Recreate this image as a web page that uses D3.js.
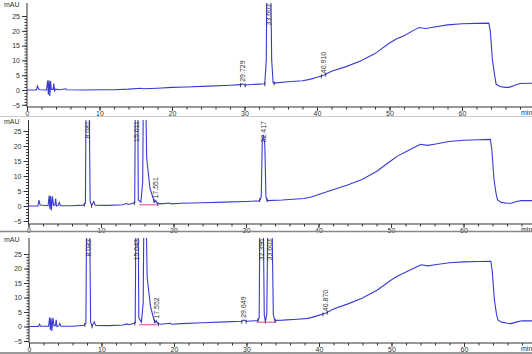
<!DOCTYPE html>
<html lang="en">
<head>
<meta charset="UTF-8">
<title>Chromatograms</title>
<style>
  body { margin: 0; background: #fff; }
  svg { display: block; font-family: Arial, "Liberation Sans", sans-serif; }
  .tick text { font-size: 7px; fill: #333; }
  .tick line { stroke: #333; }
</style>
</head>
<body>
<div id="chart"></div>
<script src="https://cdnjs.cloudflare.com/ajax/libs/d3/7.8.5/d3.min.js"></script>
<script>
// trace points [min, mAU]
const trace1 = [
  [0,0],[1.3,0],[1.45,1.3],[1.6,0.3],[1.8,0.1],[2.7,0],[2.85,3.2],[2.95,-1.5],[3.05,3.3],[3.15,-2],
  [3.25,3.0],[3.35,0.2],[3.6,0.2],[3.7,2.2],[3.8,-0.3],[3.95,0.3],[4.5,0.1],[5.3,0.4],[5.5,0.1],
  [8,0],[10,0.1],[12,0.1],[14,0.3],[15.8,0.6],[16,0.4],[18,0.6],[20,0.9],[22,1.0],[25,1.3],[28,1.6],
  [29.5,1.8],[29.73,2.1],[30,1.7],[32,2.0],[32.8,2.1],[33.0,10],[33.1,40],[33.6,40],[33.75,10],
  [33.95,2.4],[34.4,2.4],[36,2.8],[38,3.1],[39,3.6],[40,4.3],[40.91,5.0],[42,6.3],[44,7.9],[46,9.8],
  [48,12.3],[50,15.9],[51,17.3],[52,18.3],[53.5,20.4],[54.1,21.1],[55,20.8],[56,21.2],[58,22.0],
  [60,22.4],[62,22.5],[63.7,22.6],[63.9,20],[64.2,10],[64.5,5],[64.7,2],[65.2,1.2],[66,0.9],
  [66.5,0.9],[67.3,1.6],[68,2.2],[69.9,2.3]
];
const trace2 = [
  [0,0],[1.3,0],[1.45,2.0],[1.6,0.3],[2.7,0.1],[2.85,3.5],[2.95,-1],[3.05,3.3],[3.15,-1.5],[3.3,3.2],
  [3.45,0.2],[3.65,0.3],[3.75,2.5],[3.85,0],[4.1,0.2],[4.25,1.2],[4.4,0.1],[6,0.1],[7.6,0.3],
  [7.85,1],[7.95,40],[8.35,40],[8.5,1.5],[8.7,0.2],[9.0,1.5],[9.2,0.3],[11,0.2],[13,0.4],[13.5,0.8],
  [13.8,0.5],[14.5,1.0],[14.65,1.2],[14.75,40],[15.05,40],[15.15,2],[15.5,1.3],[15.75,8],[15.85,40],
  [16.15,40],[16.3,16],[16.75,6],[17.2,2.5],[17.4,1.3],[17.55,1.8],[17.75,0.9],[18.2,0.7],[19.5,1.0],
  [19.7,0.7],[21,0.9],[24,1.1],[27,1.3],[30,1.5],[31.8,1.7],[32.1,3],[32.25,22],[32.42,23.7],
  [32.6,20],[32.75,3],[32.95,1.8],[35,2.0],[38,2.5],[39,3.0],[40,3.8],[42,5.4],[44,7.0],[46,8.8],
  [48,11.5],[50,15.1],[51,16.8],[52,18.0],[53.5,19.9],[54.1,20.6],[55,20.2],[56,20.6],[58,21.5],
  [60,21.9],[62,22.1],[63.7,22.2],[63.9,19],[64.2,9],[64.5,4],[64.7,2],[65.2,1.2],[66,0.9],
  [66.6,0.9],[67.3,1.5],[68,1.8],[69.9,1.8]
];
const trace3 = [
  [0,0],[1.3,0],[1.45,0.8],[1.6,0.1],[2.7,0.1],[2.85,3.2],[2.95,-1.2],[3.05,2.8],[3.15,-1.5],[3.3,3.0],
  [3.45,0.2],[3.65,0.3],[3.75,2.3],[3.85,0],[4.1,0.2],[4.25,1.0],[4.4,0.1],[6,0.1],[7.6,0.4],
  [7.85,1.2],[7.95,40],[8.35,40],[8.5,1.5],[8.7,0.2],[9.0,1.6],[9.2,0.4],[11,0.3],[13,0.5],[13.5,0.9],
  [13.8,0.6],[14.5,1.1],[14.65,1.3],[14.75,40],[15.05,40],[15.15,3],[15.5,1.5],[15.75,8],[15.85,40],
  [16.15,40],[16.3,17],[16.75,7],[17.2,2.6],[17.4,1.4],[17.55,2.0],[17.75,1.0],[18.2,0.8],[19.5,1.1],
  [19.7,0.8],[21,1.0],[24,1.3],[27,1.6],[29.4,1.8],[29.65,2.3],[29.9,1.8],[31.5,2.0],[31.75,3],
  [31.85,40],[32.3,40],[32.45,4],[32.6,1.9],[32.8,4],[32.95,40],[33.5,40],[33.7,4],[33.9,2.1],
  [35,2.2],[37,2.5],[38.5,2.8],[39.5,3.5],[40.87,4.6],[42,6],[44,7.8],[46,9.8],[48,12.5],[50,16.1],
  [51,17.6],[52,18.8],[53.5,20.6],[54.1,21.3],[55,20.9],[56,21.3],[58,22.0],[60,22.3],[62,22.4],
  [63.7,22.5],[63.9,19],[64.2,9],[64.5,4],[64.7,2.2],[65.2,1.5],[66,1.1],[66.5,1.0],[67.3,1.6],
  [68,2.0],[69.9,1.9]
];

// peak labels [min, text, apex mAU]
const labels1 = [[29.73,"29.729",2.1],[33.35,"33.603",40],[40.91,"40.910",5.0]];
const labels2 = [[8.15,"8.081",40],[14.9,"15.011",40],[17.55,"17.551",1.8],[32.42,"32.417",23.7]];
const labels3 = [[8.15,"8.083",40],[14.9,"15.043",40],[17.55,"17.552",2.0],[29.65,"29.649",2.3],
                 [32.07,"32.396",40],[33.22,"33.603",40],[40.87,"40.870",4.6]];

// integration marks (min)
const marks1 = [29.45,30.1,32.8,34.1,40.6,41.2];
const marks2 = [7.7,8.7,14.6,17.3,17.85,31.9,32.9];
const marks3 = [7.7,8.7,14.6,17.3,17.85,29.35,29.95,31.6,32.6,33.95,40.55,41.15];

// integration baselines [from, to, mAU]
const bases1 = [];
const bases2 = [[15.3,17.8,0.4]];
const bases3 = [[15.2,17.7,0.6],[31.4,34.1,1.5]];

const xMajor = [0,10,20,30,40,50,60];
const yMajor = [-5,0,5,10,15,20,25];

const W = 532, H = 354;
const svg = d3.select("#chart").append("svg").attr("width", W).attr("height", H);

const panels = [
  { zero: 90,    k: 2.96, top: 3,   axisY: 107, left: 27,   trace: trace1, labels: labels1, marks: marks1, bases: bases1 },
  { zero: 206,   k: 3.0,  top: 120, axisY: 224, left: 28.5, trace: trace2, labels: labels2, marks: marks2, bases: bases2 },
  { zero: 326.5, k: 2.9,  top: 238, axisY: 343, left: 29,   trace: trace3, labels: labels3, marks: marks3, bases: bases3 }
];

const pxPerMin = 7.25;

// value of a trace at time t (for placing marks only)
function valueAt(tr, t) {
  for (let i = 1; i < tr.length; i++) {
    if (tr[i][0] >= t) {
      const a = tr[i - 1], b = tr[i];
      return a[1] + (b[1] - a[1]) * (t - a[0]) / (b[0] - a[0]);
    }
  }
  return tr[tr.length - 1][1];
}

panels.forEach((p, i) => {
  const x = d3.scaleLinear().domain([0, 70]).range([p.left, p.left + 70 * pxPerMin]);
  const y = d3.scaleLinear().domain([-5, 25]).range([p.zero + 5 * p.k, p.zero - 25 * p.k]);
  const g = svg.append("g");

  g.append("defs").append("clipPath").attr("id", "clip" + i)
    .append("rect").attr("x", p.left).attr("y", p.top).attr("width", W - p.left).attr("height", p.axisY - p.top);

  // y axis
  g.append("g").attr("transform", `translate(${p.left},0)`)
    .call(d3.axisLeft(y).tickValues(d3.range(-5, 26)).tickSize(2.5).tickFormat(""))
    .call(a => a.select(".domain").remove());
  g.append("g").attr("transform", `translate(${p.left},0)`)
    .call(d3.axisLeft(y).tickValues(yMajor).tickSize(5).tickPadding(2))
    .call(a => a.select(".domain").remove());
  g.append("line").attr("x1", p.left).attr("x2", p.left).attr("y1", p.top).attr("y2", p.axisY)
    .attr("stroke", "#333");
  g.append("text").attr("x", 4).attr("y", p.top + 4).attr("font-size", 7).attr("fill", "#333").text("mAU");

  // x axis
  g.append("g").attr("transform", `translate(0,${p.axisY})`)
    .call(d3.axisBottom(x).tickValues(d3.range(0, 70, 2)).tickSize(2.5).tickFormat(""))
    .call(a => a.select(".domain").remove());
  g.append("g").attr("transform", `translate(0,${p.axisY})`)
    .call(d3.axisBottom(x).tickValues(xMajor).tickSize(4).tickPadding(0))
    .call(a => a.select(".domain").remove());
  g.append("line").attr("x1", p.left).attr("x2", W).attr("y1", p.axisY).attr("y2", p.axisY)
    .attr("stroke", "#333");
  g.append("text").attr("x", 521).attr("y", p.axisY + 8).attr("font-size", 7).attr("fill", "#333").text("min");

  const plot = g.append("g").attr("clip-path", `url(#clip${i})`);

  // integration baselines
  plot.selectAll(".base").data(p.bases).join("line")
    .attr("x1", d => x(d[0])).attr("x2", d => x(d[1]))
    .attr("y1", d => y(d[2])).attr("y2", d => y(d[2]))
    .attr("stroke", "#e0409a").attr("stroke-width", 1);

  // trace
  plot.append("path").datum(p.trace)
    .attr("fill", "none").attr("stroke", "#3a3ad2").attr("stroke-width", 1.1)
    .attr("d", d3.line().x(d => x(d[0])).y(d => y(d[1])));

  // marks
  plot.selectAll(".mk").data(p.marks).join("line")
    .attr("x1", d => x(d)).attr("x2", d => x(d))
    .attr("y1", d => y(valueAt(p.trace, d)) - 1.5).attr("y2", d => y(valueAt(p.trace, d)) + 2.5)
    .attr("stroke", "#222").attr("stroke-width", 0.8);

  // peak labels
  p.labels.forEach(l => {
    const px = x(l[0]), py = y(Math.min(l[2], 40));
    const t = g.append("text").attr("font-size", 7).attr("fill", "#333").attr("dy", "0.35em").text(l[1]);
    const len = t.node().getComputedTextLength();
    if (py - 2 - len < p.top) {
      t.attr("text-anchor", "end").attr("transform", `translate(${px},${p.top + 1}) rotate(-90)`);
    } else {
      t.attr("text-anchor", "start").attr("transform", `translate(${px},${py - 2}) rotate(-90)`);
    }
  });
});

// panel separators
svg.append("line").attr("x1", 0).attr("x2", W).attr("y1", 116.5).attr("y2", 116.5).attr("stroke", "#ccc");
svg.append("line").attr("x1", 0).attr("x2", W).attr("y1", 231.5).attr("y2", 231.5).attr("stroke", "#888").attr("stroke-width", 1.5);
svg.append("rect").attr("x", 0).attr("y", 352).attr("width", W).attr("height", 2).attr("fill", "#999");
</script>
</body>
</html>
